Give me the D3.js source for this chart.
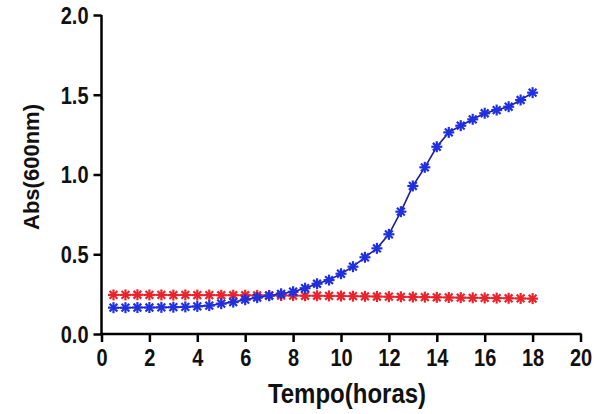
<!DOCTYPE html>
<html>
<head>
<meta charset="utf-8">
<script src="https://cdn.jsdelivr.net/npm/d3@7"></script>
<style>
  body { margin: 0; background: #fff; }
  text { font-family: "Liberation Sans", Arial, sans-serif; font-weight: bold; }
</style>
</head>
<body>
<svg id="chart" width="597" height="414"></svg>
<script>
const hours = [0.5,1,1.5,2,2.5,3,3.5,4,4.5,5,5.5,6,6.5,7,7.5,8,8.5,9,9.5,10,10.5,11,11.5,12,12.5,13,13.5,14,14.5,15,15.5,16,16.5,17,17.5,18];
const blueValues = [0.165,0.165,0.166,0.166,0.167,0.168,0.170,0.173,0.178,0.190,0.200,0.215,0.228,0.240,0.252,0.265,0.287,0.315,0.338,0.378,0.422,0.481,0.537,0.625,0.767,0.928,1.045,1.174,1.264,1.306,1.346,1.384,1.404,1.425,1.467,1.513];
const redValues = [0.245,0.245,0.246,0.245,0.245,0.244,0.245,0.244,0.244,0.243,0.243,0.243,0.242,0.242,0.241,0.241,0.240,0.240,0.239,0.238,0.237,0.236,0.235,0.234,0.233,0.232,0.231,0.230,0.229,0.228,0.227,0.226,0.225,0.224,0.223,0.222];
const xTicks = [0,2,4,6,8,10,12,14,16,18,20];
const yTicks = [0.0,0.5,1.0,1.5,2.0];
const xLabel = "Tempo(horas)";
const yLabel = "Abs(600nm)";

const svg = d3.select("#chart");
const mLeft = 101.5, mRight = 580.5, mTop = 15, mBottom = 334;
const x = d3.scaleLinear().domain([0, 20]).range([mLeft, mRight]);
const y = d3.scaleLinear().domain([0, 2]).range([mBottom, mTop]);

const xAxis = d3.axisBottom(x).tickValues(xTicks).tickFormat(d3.format("d")).tickSize(8).tickPadding(4);
const yAxis = d3.axisLeft(y).tickValues(yTicks).tickFormat(d3.format(".1f")).tickSize(8).tickPadding(5);

const gx = svg.append("g").attr("transform", `translate(0,${mBottom})`).call(xAxis);
const gy = svg.append("g").attr("transform", `translate(${mLeft},0)`).call(yAxis);
[gx, gy].forEach(g => {
  g.select(".domain").attr("stroke", "#000").attr("stroke-width", 2.5);
  g.selectAll(".tick line").attr("stroke", "#000").attr("stroke-width", 2.5);
  g.selectAll(".tick text").attr("fill", "#111").style("font-size", "20px");
});
gx.select(".domain").attr("d", `M${mLeft - 1},0H${mRight + 1}`);
gy.select(".domain").attr("d", `M0,${mTop}V${mBottom + 1}`);
// slight vertical stretch of glyphs as in the reference
gx.selectAll(".tick text").attr("y", 0).attr("dy", null)
  .attr("transform", "translate(0,31.5) scale(1,1.15)");
gy.selectAll(".tick text").attr("dy", "0.36em").attr("transform", "scale(1,1.15)");

svg.append("text").attr("transform", `translate(${(mLeft + mRight) / 2 + 6},403) scale(1,1.15)`)
  .attr("text-anchor", "middle").style("font-size", "24px").attr("fill", "#111").text(xLabel);
svg.append("text").attr("transform", `translate(39,167) rotate(-90)`)
  .attr("text-anchor", "middle").style("font-size", "22px").attr("fill", "#111").text(yLabel);

function drawSeries(values, lineColor, markerColor) {
  const data = hours.map((h, i) => [h, values[i]]);
  svg.append("path").datum(data)
    .attr("fill", "none").attr("stroke", lineColor).attr("stroke-width", 1.6)
    .attr("d", d3.line().x(d => x(d[0])).y(d => y(d[1])));
  const r = 5.5;
  const g = svg.append("g");
  data.forEach(d => {
    const cx = x(d[0]), cy = y(d[1]);
    for (let k = 0; k < 4; k++) {
      const a = k * Math.PI / 4;
      g.append("line")
        .attr("x1", cx - r * Math.cos(a)).attr("y1", cy - r * Math.sin(a))
        .attr("x2", cx + r * Math.cos(a)).attr("y2", cy + r * Math.sin(a))
        .attr("stroke", markerColor).attr("stroke-width", 2.2);
    }
  });
}
drawSeries(redValues, "#e03030", "#e8242c");
drawSeries(blueValues, "#1c1c9c", "#2030e0");
</script>
</body>
</html>
